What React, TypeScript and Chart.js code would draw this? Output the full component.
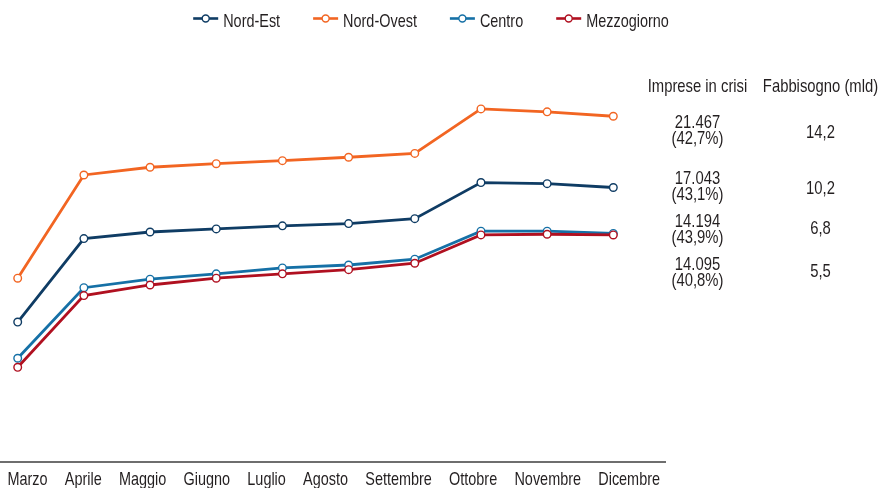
import React, { useEffect, useRef } from "react";
import { Chart, registerables } from "chart.js";

Chart.register(...registerables);

// ---------- data ----------
const months = ["Marzo", "Aprile", "Maggio", "Giugno", "Luglio", "Agosto", "Settembre", "Ottobre", "Novembre", "Dicembre"];
const seriesNames = ["Nord-Est", "Nord-Ovest", "Centro", "Mezzogiorno"];
const nordEst = [8690, 13870, 14280, 14470, 14660, 14800, 15110, 17350, 17280, 17043];
const nordOvest = [11410, 17820, 18300, 18520, 18710, 18920, 19160, 21920, 21740, 21467];
const centro = [6440, 10820, 11350, 11680, 12050, 12230, 12590, 14330, 14330, 14194];
const mezzogiorno = [5880, 10330, 10990, 11410, 11680, 11940, 12340, 14100, 14140, 14095];

const tableHeaders = ["Imprese in crisi", "Fabbisogno (mld)"];
// rows, top to bottom: Nord-Ovest, Nord-Est, Centro, Mezzogiorno
const impreseInCrisi = ["21.467", "17.043", "14.194", "14.095"];
const impreseQuota = ["(42,7%)", "(43,1%)", "(43,9%)", "(40,8%)"];
const fabbisogno = ["14,2", "10,2", "6,8", "5,5"];

// ---------- styles / layout ----------
const seriesColors = ["#0f3c64", "#f26522", "#1570a6", "#b01020"];
const drawOrder = [2, 3, 1, 0];
const FAMILY = '"Liberation Sans", Arial, sans-serif';
const NARROW = 0.78; // horizontal compression to mimic a condensed face
const TEXT = "#231f20";
const legendCenterX = 431;
const legendBaseline = 26.8;
const legendIconY = 18.5;
const monthsLeft = 7.5;
const monthsRight = 660;
const monthsBaseline = 484.5;
const col1X = 697.5;
const col2X = 820.5;
const headerBaseline = 91.7;
const col1Baselines = [127.9, 183.9, 226.9, 269.6];
const col2Baselines = [138.4, 193.9, 233.9, 276.9];
const lineStep = 16.5;

const textPlugin = {
  id: "narrowTexts",
  afterDraw(chart: any) {
    const ctx: CanvasRenderingContext2D = chart.ctx;
    const setFont = (size: number) => {
      ctx.font = `${size}px ${FAMILY}`;
    };
    const width = (s: string) => ctx.measureText(s).width * NARROW;
    const draw = (s: string, x: number, y: number, align: CanvasTextAlign) => {
      ctx.save();
      ctx.translate(x, y);
      ctx.scale(NARROW, 1);
      ctx.textAlign = align;
      ctx.textBaseline = "alphabetic";
      ctx.fillStyle = TEXT;
      ctx.fillText(s, 0, 0);
      ctx.restore();
    };

    // legend
    setFont(18.5);
    const iconW = 25;
    const iconGap = 5;
    const itemGap = 33;
    const itemWidths = seriesNames.map((n) => iconW + iconGap + width(n));
    const total = itemWidths.reduce((a, b) => a + b, 0) + itemGap * (seriesNames.length - 1);
    let x = legendCenterX - total / 2;
    seriesNames.forEach((name, i) => {
      const color = seriesColors[i];
      ctx.save();
      ctx.strokeStyle = color;
      ctx.lineWidth = 2.6;
      ctx.beginPath();
      ctx.moveTo(x, legendIconY);
      ctx.lineTo(x + iconW, legendIconY);
      ctx.stroke();
      ctx.beginPath();
      ctx.arc(x + iconW / 2, legendIconY, 3.5, 0, Math.PI * 2);
      ctx.fillStyle = "#fff";
      ctx.fill();
      ctx.lineWidth = 1.4;
      ctx.stroke();
      ctx.restore();
      draw(name, x + iconW + iconGap, legendBaseline, "left");
      x += itemWidths[i] + itemGap;
    });

    // month labels, spread evenly along the axis
    setFont(18.5);
    const mw = months.map(width);
    const sum = mw.reduce((a, b) => a + b, 0);
    const gap = (monthsRight - monthsLeft - sum) / (months.length - 1);
    let mx = monthsLeft;
    months.forEach((m, i) => {
      draw(m, mx, monthsBaseline, "left");
      mx += mw[i] + gap;
    });

    // right-hand table
    setFont(19);
    draw(tableHeaders[0], col1X, headerBaseline, "center");
    draw(tableHeaders[1], col2X, headerBaseline, "center");
    impreseInCrisi.forEach((v, i) => {
      draw(v, col1X, col1Baselines[i], "center");
      draw(impreseQuota[i], col1X, col1Baselines[i] + lineStep, "center");
      draw(fabbisogno[i], col2X, col2Baselines[i], "center");
    });
  },
};

export default function App() {
  const canvasRef = useRef<HTMLCanvasElement | null>(null);

  useEffect(() => {
    if (!canvasRef.current) return;
    const series = [nordEst, nordOvest, centro, mezzogiorno];
    const chart = new Chart(canvasRef.current, {
      type: "line",
      data: {
        labels: months,
        datasets: series.map((arr, si) => ({
          label: seriesNames[si],
          data: arr.map((v, i) => ({ x: i, y: v })),
          borderColor: seriesColors[si],
          backgroundColor: seriesColors[si],
          borderWidth: 2.8,
          tension: 0,
          fill: false,
          pointRadius: 3.8,
          pointBorderWidth: 1.4,
          pointBackgroundColor: "#ffffff",
          pointBorderColor: seriesColors[si],
          order: drawOrder[si],
        })),
      },
      options: {
        responsive: false,
        animation: false,
        events: [],
        layout: { padding: { left: 0, right: 228, top: 40, bottom: 26 }, autoPadding: false },
        plugins: { legend: { display: false }, tooltip: { enabled: false }, title: { display: false } },
        scales: {
          x: {
            type: "linear",
            min: -0.2675,
            max: 9.781,
            display: true,
            grid: { display: false, drawTicks: false },
            ticks: { display: false },
            border: { display: true, color: "#6e6e6e", width: 2 },
          },
          y: {
            display: false,
            min: 0,
            max: 26200,
          },
        },
      },
      plugins: [textPlugin],
    });
    return () => chart.destroy();
  }, []);

  return (
    <div style={{ position: "absolute", left: 0, top: 0, width: 893, height: 488, background: "#fff", overflow: "hidden" }}>
      <canvas ref={canvasRef} width={893} height={488} style={{ position: "absolute", left: 0, top: 0, display: "block" }} />
    </div>
  );
}
